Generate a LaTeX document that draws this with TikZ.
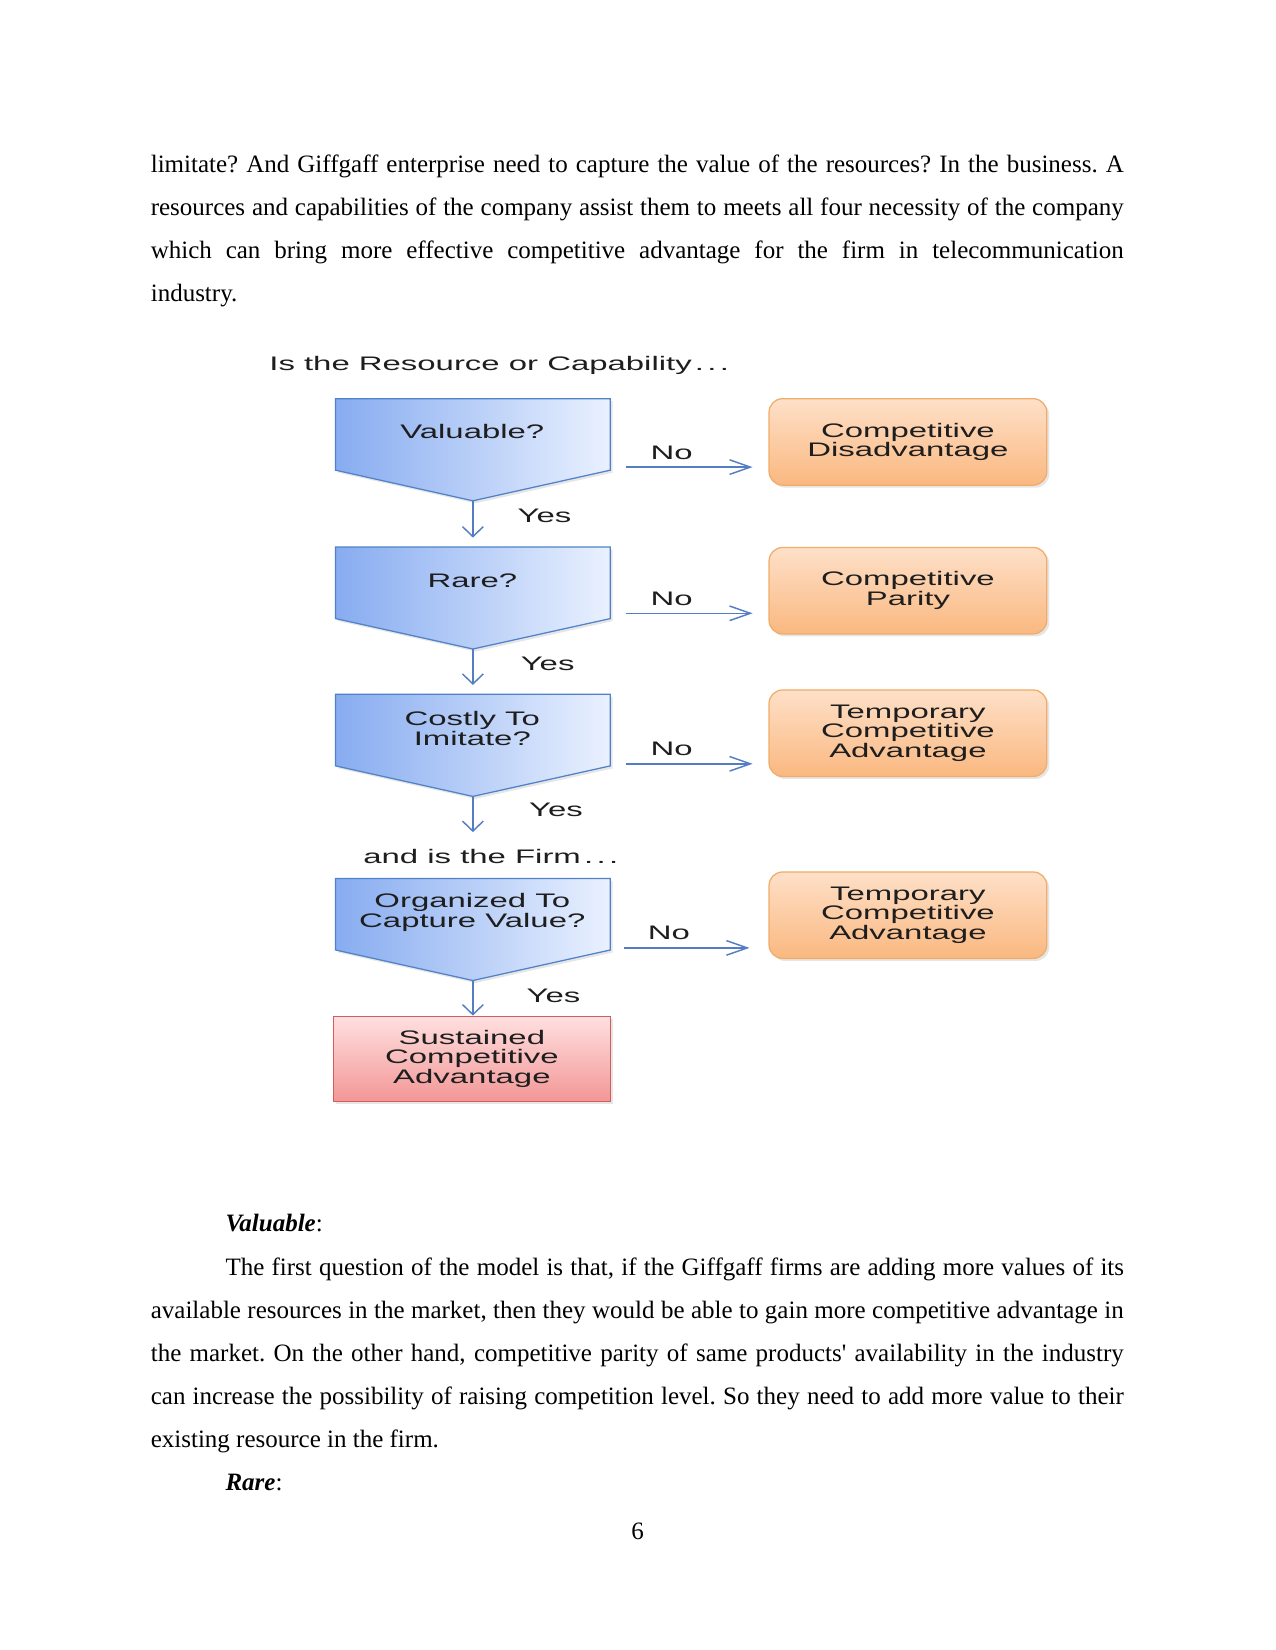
\documentclass[tikz,border=0pt]{standalone}
\usepackage{fontspec}
\setmainfont{Liberation Serif}
\newfontfamily\diagfont[FakeStretch=1.68]{Liberation Sans}
\usepackage{xcolor}
\usepackage{tikz}
\usetikzlibrary{arrows.meta, positioning, calc, shadows}
\definecolor{qblue}{RGB}{80,130,200}
\definecolor{qbluel}{RGB}{135,172,240}
\definecolor{qbluer}{RGB}{234,241,255}
\definecolor{ordraw}{RGB}{240,172,105}
\definecolor{ortop}{RGB}{254,224,200}
\definecolor{orbot}{RGB}{250,184,128}
\definecolor{rddraw}{RGB}{212,92,92}
\definecolor{rdtop}{RGB}{255,224,224}
\definecolor{rdbot}{RGB}{243,150,150}
\definecolor{linkblue}{RGB}{85,125,195}
\definecolor{txtdark}{RGB}{30,30,30}
\tikzset{
  diag/.style={font=\diagfont\fontsize{9.4}{9.4}\selectfont, text=txtdark, align=center},
  chev/.style={draw=qblue, line width=0.6pt, left color=qbluel, right color=qbluer, drop shadow={opacity=0.2, shadow xshift=1.2pt, shadow yshift=-1.2pt}},
  outbox/.style={diag, rectangle, rounded corners=6.5pt, draw=ordraw, line width=0.6pt, top color=ortop, bottom color=orbot, minimum width=133.3pt, minimum height=41.5pt, drop shadow={opacity=0.2, shadow xshift=1.2pt, shadow yshift=-1.2pt}},
  endbox/.style={diag, rectangle, draw=rddraw, line width=0.6pt, top color=rdtop, bottom color=rdbot, minimum width=132.8pt, minimum height=40.9pt, drop shadow={opacity=0.2, shadow xshift=1.2pt, shadow yshift=-1.2pt}},
  noarrow/.style={-{Straight Barb[length=10pt,width=7pt]}, linkblue, line width=0.7pt, shorten >=7.6pt},
  yesarrow/.style={-{Straight Barb[length=4.8pt,width=10pt]}, linkblue, line width=0.7pt},
  body/.style={font=\fontsize{12}{14}\selectfont\frenchspacing, anchor=base west, inner sep=0pt}
}

\begin{document}
\begin{tikzpicture}[x=0.48pt, y=-0.48pt]
  \useasboundingbox (0,0) rectangle (1275,1650);

  % Text above the figure
  \node[body] (top1) at (150.4,172.7) {\makebox[467pt][s]{limitate? And Giffgaff enterprise need to capture the value of the resources? In the business. A}};
  \node[body] (top2) at (150.4,215.8) {\makebox[467pt][s]{resources and capabilities of the company assist them to meets all four necessity of the company}};
  \node[body] (top3) at (150.4,258.9) {\makebox[467pt][s]{which can bring more effective competitive advantage for the firm in telecommunication}};
  \node[body] (top4) at (150.4,302) {industry.};

  % VRIO chart
  \node[diag, anchor=west] (askres) at (262,365) {Is the Resource or Capability\,.\,.\,.};

  \draw[chev] (335.6,398.7) -- (610.2,398.7) -- (610.2,470.2) -- (472.9,500.8) -- (335.6,470.2) -- cycle;
  \draw[chev] (335.6,547) -- (610.2,547) -- (610.2,618.6) -- (472.9,649) -- (335.6,618.6) -- cycle;
  \draw[chev] (335.6,694.3) -- (610.2,694.3) -- (610.2,765.9) -- (472.9,796.4) -- (335.6,765.9) -- cycle;
  \draw[chev] (335.6,878.4) -- (610.2,878.4) -- (610.2,950) -- (472.9,980.5) -- (335.6,950) -- cycle;

  \node[diag] (valuable) at (472.3,431.3) {Valuable?};
  \node[diag] (rare) at (472.3,580.7) {Rare?};
  \node[diag] (costly) at (472.3,728.5) {Costly To\\Imitate?};
  \node[diag] (organized) at (472.3,912.6) {Organized To\\Capture Value?};
  \node[diag, anchor=west] (askfirm) at (356,856.3) {and is the Firm\,.\,.\,.};

  \coordinate (valtip) at (472.9,500.8);
  \coordinate (raretop) at (472.9,547);
  \coordinate (raretip) at (472.9,649);
  \coordinate (costtop) at (472.9,694.3);
  \coordinate (costtip) at (472.9,796.4);
  \coordinate (firmend) at (472.9,832.1);
  \coordinate (orgtip) at (472.9,980.5);

  \node[outbox] (disadv) at (907.9,441.9) {Competitive\\Disadvantage};
  \node[outbox] (parity) at (907.9,590.7) {Competitive\\Parity};
  \node[outbox] (tempA) at (907.9,733.2) {Temporary\\Competitive\\Advantage};
  \node[outbox] (tempB) at (907.9,915.2) {Temporary\\Competitive\\Advantage};
  \node[endbox] (sustain) at (471.9,1058.8) {Sustained\\Competitive\\Advantage};

  % No branches
  \coordinate (valno) at (626,467.1);
  \coordinate (rareno) at (626,613.3);
  \coordinate (costno) at (626,763.8);
  \coordinate (orgno) at (624,947.9);
  \draw[noarrow] (valno) -- (valno -| disadv.west);
  \draw[noarrow] (rareno) -- (rareno -| parity.west);
  \draw[noarrow] (costno) -- (costno -| tempA.west);
  \draw[noarrow, shorten >=9.1pt] (orgno) -- (orgno -| tempB.west);
  \node[diag] (nolabA) at (671.7,452.4) {No};
  \node[diag] (nolabB) at (671.7,598.6) {No};
  \node[diag] (nolabC) at (671.7,749) {No};
  \node[diag] (nolabD) at (669,933) {No};

  % Yes branches
  \draw[yesarrow, shorten >=4.5pt] (valtip) -- (raretop);
  \draw[yesarrow, shorten >=4.5pt] (raretip) -- (costtop);
  \draw[yesarrow] (costtip) -- (firmend);
  \draw[yesarrow] (orgtip) -- (orgtip |- sustain.north);
  \node[diag] (yeslabA) at (544.4,515.5) {Yes};
  \node[diag] (yeslabB) at (547.6,663.8) {Yes};
  \node[diag] (yeslabC) at (556,810) {Yes};
  \node[diag] (yeslabD) at (553.4,996.2) {Yes};

  % Text below the figure
  \node[body] (headV) at (225.1,1231) {\textbf{\textit{Valuable}}:};
  \node[body] (low1) at (225.1,1275.2) {\makebox[431.3pt][s]{The first question of the model is that, if the Giffgaff firms are adding more values of its}};
  \node[body] (low2) at (150.4,1318.3) {\makebox[467pt][s]{available resources in the market, then they would be able to gain more competitive advantage in}};
  \node[body] (low3) at (150.4,1361.4) {\makebox[467pt][s]{the market. On the other hand, competitive parity of same products\textquotesingle{} availability in the industry}};
  \node[body] (low4) at (150.4,1404.6) {\makebox[467pt][s]{can increase the possibility of raising competition level. So they need to add more value to their}};
  \node[body] (low5) at (150.4,1447.7) {existing resource in the firm.};
  \node[body] (headR) at (225.1,1490.8) {\textbf{\textit{Rare}}:};
  \node[body, anchor=base] (pagenum) at (637.5,1539) {6};
\end{tikzpicture}
\end{document}
